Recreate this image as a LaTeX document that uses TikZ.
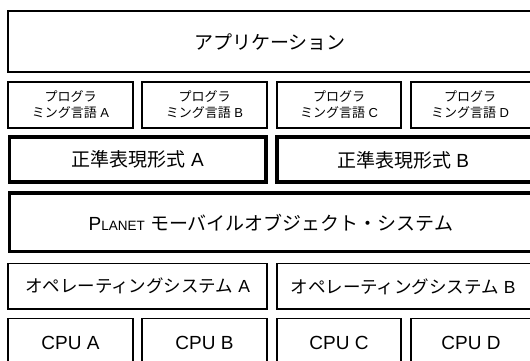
\documentclass[tikz,border=0pt]{standalone}
\usepackage{fontspec}
\setmainfont{Liberation Sans}
\newfontfamily\jp{Noto Sans CJK JP}
\begin{document}
\begin{tikzpicture}[x=1pt,y=-1pt,
  thinbox/.style={draw=black,line width=1.6pt,fill=white,inner sep=0pt,align=center},
  thickbox/.style={draw=black,line width=3.5pt,fill=white,inner sep=0pt,align=center},
  big/.style={font=\fontsize{19}{22}\selectfont},
  mid/.style={font=\fontsize{17.5}{20}\selectfont},
  small/.style={font=\fontsize{13}{16}\selectfont}]
\useasboundingbox[fill=white] (0,0) rectangle (530,360);
\clip (0,0) rectangle (530,360);
% application
\node[thinbox,big,minimum width=537pt,minimum height=61pt] (app) at (276.5,41.5) {};
\node[big] (apptxt) at (270,42) {\jp アプリケーション};
% languages
\node[thinbox,small,minimum width=125pt,minimum height=46pt] (la) at (70.5,105) {{\jp プログラ}\\{\jp ミング言語} A};
\node[thinbox,small,minimum width=125pt,minimum height=46pt] (lb) at (204.5,105) {{\jp プログラ}\\{\jp ミング言語} B};
\node[thinbox,small,minimum width=124pt,minimum height=46pt] (lc) at (339,105) {{\jp プログラ}\\{\jp ミング言語} C};
\node[thinbox,minimum width=134pt,minimum height=46pt] (ld) at (478,105) {};
\node[small,align=center] (ldt) at (470,105) {{\jp プログラ}\\{\jp ミング言語} D};
% regex
\node[thickbox,big,minimum width=256.5pt,minimum height=45pt] (ra) at (137.75,159.5) {{\jp 正準表現形式} A};
\node[thickbox,minimum width=268pt,minimum height=45pt] (rb) at (411,159.5) {};
\node[big] (rbt) at (403,160) {{\jp 正準表現形式} B};
% planet
\node[thickbox,minimum width=535.5pt,minimum height=58.5pt] (pl) at (277.25,222.25) {};
\node[big] (plt) at (271,223) {P{\fontsize{13.5}{16}\selectfont LANET} {\jp モーバイルオブジェクト・システム}};
% OS
\node[thinbox,mid,minimum width=259pt,minimum height=45.5pt] (osa) at (137.5,286.25) {{\jp オペレーティングシステム} A};
\node[thinbox,minimum width=268pt,minimum height=45.5pt] (osb) at (411,286.25) {};
\node[mid] (osbt) at (403,286.5) {{\jp オペレーティングシステム} B};
% CPU
\node[thinbox,big,minimum width=125pt,minimum height=62pt] (ca) at (70.5,349.5) {};
\node[thinbox,minimum width=125pt,minimum height=62pt] (cb) at (204.5,349.5) {};
\node[thinbox,minimum width=124pt,minimum height=62pt] (cc) at (339,349.5) {};
\node[thinbox,minimum width=134pt,minimum height=62pt] (cd) at (478,349.5) {};
\node[big] (cat) at (70.5,343) {CPU A};
\node[big] (cbt) at (204.5,343) {CPU B};
\node[big] (cct) at (339,343) {CPU C};
\node[big] (cdt) at (471,343) {CPU D};
\end{tikzpicture}
\end{document}
